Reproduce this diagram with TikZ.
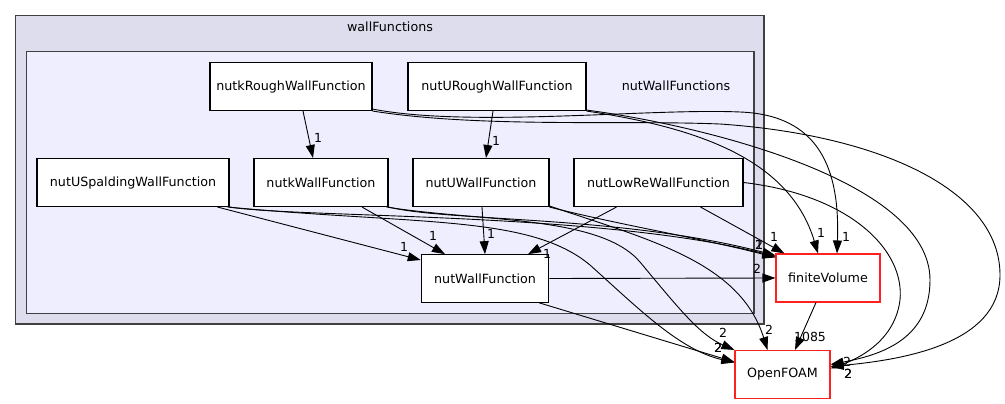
\documentclass[tikz,border=0pt]{standalone}
\usepackage{fontspec}
\setmainfont{DejaVu Sans}
\usetikzlibrary{arrows.meta}
\definecolor{outerfill}{HTML}{DDDDEE}
\definecolor{innerfill}{HTML}{EEEEFF}
\definecolor{clusterline}{HTML}{404040}
\definecolor{redline}{HTML}{FF2020}
\newcommand\nodefnt{\fontsize{12.7}{15}\selectfont}
\newcommand\labfnt{\fontsize{12.5}{15}\selectfont}
\begin{document}
\begin{tikzpicture}[x=1pt,y=-1pt,
  box/.style={draw=black,fill=white,line width=1.1pt,inner sep=0pt,minimum height=48pt,font=\nodefnt},
  redbox/.style={box,draw=redline},
  lab/.style={inner sep=0pt,font=\labfnt},
  edge/.style={-{Triangle[length=13pt,width=9pt]},line width=0.9pt},
  cluster/.style={draw=clusterline,line width=1.4pt,inner sep=0pt}]
\useasboundingbox (0,0) rectangle (1005,404);
% clusters
\node[cluster,fill=outerfill,minimum width=748.3pt,minimum height=308.3pt] (wallFunctions) at (389.85,169.85) {};
\node[cluster,fill=innerfill,minimum width=727.3pt,minimum height=261.6pt] (nutWallFunctions) at (390.35,182.5) {};
\node[lab,font=\nodefnt] (wfLabel) at (390,27) {wallFunctions};
\node[lab,font=\nodefnt] (nwfLabel) at (676,86) {nutWallFunctions};
% nodes
\node[box,minimum width=162pt] (kR) at (291,86.5) {nutkRoughWallFunction};
\node[box,minimum width=178pt] (UR) at (497,86.5) {nutURoughWallFunction};
\node[box,minimum width=192pt] (USp) at (133,182.5) {nutUSpaldingWallFunction};
\node[box,minimum width=134pt] (kW) at (321,182.5) {nutkWallFunction};
\node[box,minimum width=136pt] (UW) at (481,182.5) {nutUWallFunction};
\node[box,minimum width=169pt] (LR) at (658.5,182.5) {nutLowReWallFunction};
\node[box,minimum width=127.4pt,minimum height=47.6pt] (nW) at (485,278.5) {nutWallFunction};
\node[redbox,minimum width=104pt] (fV) at (828,278) {finiteVolume};
\node[redbox,minimum width=95pt] (OF) at (782.5,374.5) {OpenFOAM};
% edges inside
\draw[edge] ([xshift=12pt]kR.south) -- ([xshift=-8pt]kW.north);
\draw[edge] ([xshift=-4pt]UR.south) -- ([xshift=5pt]UW.north);
\draw[edge] ([xshift=-12pt]USp.south east) -- ([yshift=18.5pt]nW.west);
\draw[edge] ([xshift=41pt]kW.south) -- ([xshift=-40pt]nW.north);
\draw[edge] ([xshift=1pt]UW.south) -- (nW.north);
\draw[edge] ([xshift=-42pt]LR.south) -- ([xshift=43pt]nW.north);
% to finiteVolume
\draw[edge] (nW.east) -- (fV.west);
\draw[edge] ([yshift=2pt]kR.south east) .. controls (470,128) and (650,108) .. (740,112)
  .. controls (820,115) and (840,170) .. ([xshift=9pt]fV.north);
\draw[edge] (UR.south east) .. controls (700,128) and (790,160) .. ([xshift=-10pt]fV.north);
\draw[edge] ([xshift=-43pt]LR.south east) -- ([xshift=9pt]fV.north west);
\draw[edge] (USp.south east) .. controls (300,218) and (600,212) .. ([yshift=-3pt]fV.north west);
\draw[edge] (kW.south east) .. controls (450,222) and (620,215) .. ([yshift=-2pt]fV.north west);
\draw[edge] (UW.south east) .. controls (620,225) and (700,238) .. ([yshift=-4pt]fV.north west);
% to OpenFOAM
\draw[edge] ([xshift=-10pt]nW.south east) -- ([yshift=12.5pt]OF.west);
\draw[edge] ([xshift=-12pt]fV.south) -- ([xshift=12.5pt]OF.north);
\draw[edge] ([xshift=-2pt]USp.south east) .. controls (420,225) and (530,215) .. (590,265)
  .. controls (640,310) and (680,350) .. ([yshift=12pt]OF.west);
\draw[edge] ([xshift=-2pt]kW.south east) .. controls (480,222) and (600,215) .. (640,262)
  .. controls (680,310) and (700,335) .. (OF.north west);
\draw[edge] ([yshift=1pt]UW.south east) .. controls (650,240) and (740,262) .. ([xshift=-15pt]OF.north);
\draw[edge] (kR.south east) .. controls (480,128) and (620,120) .. (720,124)
  .. controls (880,135) and (1000,190) .. (1000,275)
  .. controls (1000,345) and (900,360) .. ([yshift=8pt]OF.east);
\draw[edge] ([yshift=1pt]UR.south east) .. controls (700,125) and (930,180) .. (930,280)
  .. controls (930,340) and (880,355) .. ([yshift=10pt]OF.east);
\draw[edge] (LR.east) .. controls (850,195) and (905,250) .. (900,300)
  .. controls (895,340) and (860,358) .. ([yshift=6pt]OF.east);
% labels
\node[lab] (l1) at (318,138) {1};
\node[lab] (l2) at (496,141) {1};
\node[lab] (l3) at (404,247) {1};
\node[lab] (l4) at (433,236) {1};
\node[lab] (l5) at (491,234) {1};
\node[lab] (l6) at (547,254) {1};
\node[lab] (l7) at (757,269) {2};
\node[lab] (l8) at (718,348) {2};
\node[lab] (l8b) at (718.4,348) {2};
\node[lab] (l9) at (723,333) {2};
\node[lab] (l10) at (769,330) {2};
\node[lab] (l11) at (810,337) {1085};
\node[lab] (l12) at (846,237) {1};
\node[lab] (l13) at (821,233) {1};
\node[lab] (l14) at (774,237) {1};
\node[lab] (l15) at (759,245) {1};
\node[lab] (l15b) at (759,245) {2};
\node[lab] (l16) at (847,362) {2};
\node[lab] (l17) at (848,374) {2};
\node[lab] (l17b) at (848.4,374) {2};
\end{tikzpicture}
\end{document}
